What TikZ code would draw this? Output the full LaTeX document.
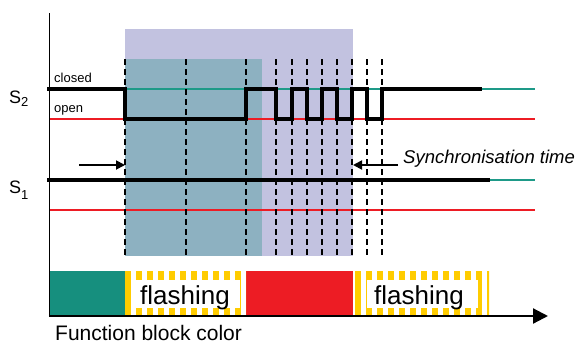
\documentclass[tikz,border=0pt]{standalone}
\usepackage{fontspec}
\setmainfont{Liberation Sans}
\usetikzlibrary{arrows.meta}

\definecolor{syncpurple}{HTML}{C2C2E0}
\definecolor{syncteal}{HTML}{8DB1C1}
\definecolor{blockteal}{HTML}{168F7E}
\definecolor{linegreen}{HTML}{1E9A88}
\definecolor{openred}{HTML}{ED1C24}
\definecolor{flashyellow}{HTML}{FFCC00}

\begin{document}
\begin{tikzpicture}[x=1pt,y=-1pt,
  wave/.style={line width=3.2pt, line join=miter, line cap=rect},
  levelline/.style={line width=1.3pt},
  syncline/.style={line width=1.6pt, dash pattern=on 6pt off 4pt},
  pointer/.style={line width=1.8pt, -{Triangle[length=9pt,width=9pt]}},
  label/.style={inner sep=0pt, anchor=base west},
  flashtext/.style={inner sep=0pt, anchor=base, font=\fontsize{26}{28}\selectfont},
]
\useasboundingbox (0,0) rectangle (576,346);

% synchronisation windows
\fill[syncpurple] (125,29) rectangle (353,256);
\fill[syncteal] (125,59) rectangle (262,256);

% state levels
\draw[levelline, linegreen] (49,89) -- (535,89);
\draw[levelline, openred] (49,119) -- (535,119);
\draw[levelline, linegreen] (480,180) -- (535,180);
\draw[levelline, openred] (49,210) -- (535,210);

% sampling instants
\foreach \x in {125,186,246,276,292,307,322,337,352,367,382}
  \draw[syncline] (\x,59) -- (\x,256);

% switch signals
\draw[wave] (49,89) -- (125,89) -- (125,119) -- (246,119) -- (246,89)
  -- (276,89) -- (276,119) -- (292,119) -- (292,89) -- (307,89)
  -- (307,119) -- (322,119) -- (322,89) -- (337,89) -- (337,119)
  -- (352,119) -- (352,89) -- (367,89) -- (367,119) -- (382,119)
  -- (382,89) -- (480,89);
\draw[wave] (49,180) -- (488,180);

% labels
\node[label, font=\fontsize{18}{20}\selectfont] (s2) at (9,103)
  {S\raisebox{-3.5pt}{\fontsize{13}{15}\selectfont 2}};
\node[label, font=\fontsize{18}{20}\selectfont] (s1) at (9,193)
  {S\raisebox{-6.5pt}{\fontsize{13}{15}\selectfont 1}};
\node[label, font=\fontsize{13}{15}\selectfont] (closed) at (54,82) {closed};
\node[label, font=\fontsize{13}{15}\selectfont] (open) at (54,112) {open};

% synchronisation time pointers
\coordinate (la) at (79,165);
\coordinate (lb) at (125,165);
\coordinate (ra) at (398,165);
\coordinate (rb) at (353,165);
\draw[pointer] (la) -- (lb);
\draw[pointer] (ra) -- (rb);
\node[label, font=\fontsize{18.5}{20}\selectfont\itshape] (synctime) at (403,163)
  {Synchronisation time};

% function block colour bar
\fill[blockteal] (49,271) rectangle (125,316);
\fill[openred] (246,271) rectangle (353,316);
\begin{scope}
  \clip (125,271) rectangle (246,316);
  \foreach \x in {0,11,...,121}
    \fill[flashyellow] (125+\x,271) rectangle ++(5.5,45);
\end{scope}
\fill[white] (135,280) rectangle (240,308);
\begin{scope}
  \clip (355,271) rectangle (489,316);
  \foreach \x in {0,11,...,132}
    \fill[flashyellow] (355+\x,271) rectangle ++(5.5,45);
\end{scope}
\fill[white] (367,280) rectangle (478,308);
\node[flashtext] (flash1) at (185,304.5) {flashing};
\node[flashtext] (flash2) at (419,304.5) {flashing};

% axes
\draw[line width=1.5pt] (49.5,13) -- (49.5,316);
\draw[line width=2.2pt, -{Triangle[length=15pt,width=15pt]}] (48.75,316) -- (548,316);

\node[label, font=\fontsize{21}{23}\selectfont] (fbc) at (55,340) {Function block color};
\end{tikzpicture}
\end{document}
